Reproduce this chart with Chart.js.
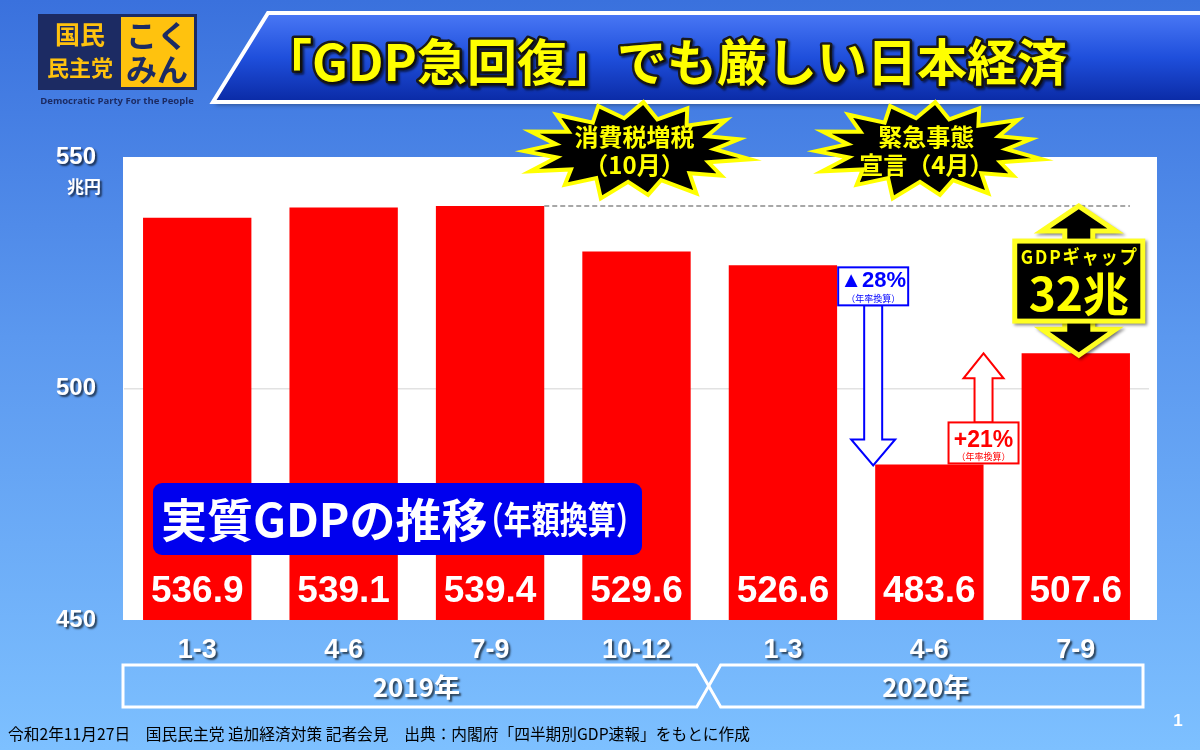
<!DOCTYPE html>
<html><head><meta charset="utf-8">
<script src="https://cdn.jsdelivr.net/npm/chart.js@4.4.1/dist/chart.umd.min.js"></script>
<style>
html,body{margin:0;padding:0;width:1200px;height:750px;overflow:hidden;}
body{background:linear-gradient(180deg,#3a71dd 0%,#5b98ef 45%,#7dc0ff 100%);}
#wrap{position:absolute;left:0;top:0;width:1200px;height:750px;}
</style></head>
<body><div id="wrap"><canvas id="c" width="1200" height="750"></canvas></div>
<script>
const categories = ['1-3','4-6','7-9','10-12','1-3','4-6','7-9'];
const gdp = [536.9, 539.1, 539.4, 529.6, 526.6, 483.6, 507.6];
const yTicks = [450, 500, 550];
const years = ['2019年', '2020年'];
const titleText = '「GDP急回復」でも厳しい日本経済';
const footerText = '令和2年11月27日　国民民主党 追加経済対策 記者会見　出典：内閣府「四半期別GDP速報」をもとに作成';

const JP = '"Noto Sans CJK JP","Noto Sans",sans-serif';
const NUM = '"Liberation Sans","Arial",sans-serif';

function poly(ctx, pts){ ctx.beginPath(); ctx.moveTo(pts[0][0],pts[0][1]); for(let i=1;i<pts.length;i++) ctx.lineTo(pts[i][0],pts[i][1]); ctx.closePath(); }

function starburst(ctx, cx, cy, rx, ry, irx, iry, n){
  const pts=[];
  for(let i=0;i<n*2;i++){
    const a = -Math.PI/2 + i*Math.PI/n + 0.08;
    const o = i%2===0;
    const jitter = o ? (1 + 0.06*Math.sin(i*1.7)) : 1;
    pts.push([cx + Math.cos(a)*(o?rx:irx)*jitter, cy + Math.sin(a)*(o?ry:iry)*jitter]);
  }
  ctx.save();
  poly(ctx, pts);
  ctx.fillStyle='#000'; ctx.fill();
  ctx.lineWidth=4; ctx.strokeStyle='#ffff00'; ctx.lineJoin='miter'; ctx.stroke();
  ctx.restore();
}

function vArrow(cx, baseY, headBaseY, tipY, sh, hh){
  return [[cx-sh,baseY],[cx+sh,baseY],[cx+sh,headBaseY],[cx+hh,headBaseY],[cx,tipY],[cx-hh,headBaseY],[cx-sh,headBaseY]];
}

function outlinedText(ctx, txt, x, y, fill, stroke, lw){
  ctx.lineWidth=lw; ctx.strokeStyle=stroke; ctx.lineJoin='round';
  ctx.strokeText(txt,x,y); ctx.fillStyle=fill; ctx.fillText(txt,x,y);
}

const deco = {
  id:'deco',
  beforeDraw(chart){
    const ctx=chart.ctx, a=chart.chartArea;
    Object.values(chart.scales).forEach(s=>{
      if(!s._shadowPatched){
        const orig=s.drawLabels;
        s.drawLabels=function(area){
          const c=this.ctx; c.save();
          c.shadowColor='rgba(0,0,0,0.65)'; c.shadowOffsetX=2; c.shadowOffsetY=2; c.shadowBlur=2;
          orig.call(this,area); c.restore();
        };
        s._shadowPatched=true;
      }
    });
    ctx.save();
    ctx.fillStyle='#ffffff';
    ctx.fillRect(a.left-1, a.top, a.right-a.left+9, a.bottom-a.top);
    ctx.restore();
  },
  afterDatasetsDraw(chart){
    const ctx=chart.ctx, a=chart.chartArea;
    const xs=chart.scales.x, ys=chart.scales.y;
    const meta=chart.getDatasetMeta(0);
    const X=i=>xs.getPixelForValue(i), Y=v=>ys.getPixelForValue(v);
    const bw=meta.data[0].width;

    ctx.save();
    ctx.setLineDash([5,3]); ctx.strokeStyle='#8a8a8a'; ctx.lineWidth=1.5;
    ctx.beginPath(); ctx.moveTo(X(2)+bw/2, Y(gdp[2])); ctx.lineTo(X(6)+bw/2, Y(gdp[2])); ctx.stroke();
    ctx.restore();

    ctx.save();
    ctx.font='bold 37px '+NUM; ctx.fillStyle='#fff'; ctx.textAlign='center'; ctx.textBaseline='middle';
    meta.data.forEach((b,i)=>{ ctx.fillText(gdp[i].toFixed(1), b.x, a.bottom-28); });
    ctx.restore();

    ctx.save();
    const lx=a.left+29, ly=a.bottom-137, lw=489, lh=72;
    ctx.beginPath(); ctx.roundRect(lx,ly,lw,lh,9); ctx.fillStyle='#0000ee'; ctx.fill();
    ctx.fillStyle='#fff'; ctx.textBaseline='middle'; ctx.textAlign='left';
    ctx.font='bold 46px '+JP;
    ctx.fillText('実質GDPの推移', lx+8, ly+lh/2+1);
    const w1=ctx.measureText('実質GDPの推移').width;
    ctx.font='bold 37px '+JP;
    ctx.fillText('（年額換算）', lx+w1-4, ly+lh/2+1, lw-w1+6);
    ctx.restore();

    ctx.save();
    const bcx = X(5)-bw/2-2;
    const btop = Y(gdp[4])+2, bboxB = btop+38;
    poly(ctx, vArrow(bcx, bboxB, Y(gdp[5])-25, Y(gdp[5])+1, 9, 22));
    ctx.fillStyle='#fff'; ctx.fill(); ctx.strokeStyle='#0000ff'; ctx.lineWidth=2; ctx.stroke();
    ctx.fillRect(bcx-35, btop, 70, 38); ctx.strokeRect(bcx-35, btop, 70, 38);
    ctx.fillStyle='#0000ff'; ctx.textAlign='center'; ctx.textBaseline='middle';
    ctx.font='bold 22px '+NUM; ctx.fillText('▲28%', bcx, btop+14);
    ctx.font='9px '+JP; ctx.fillText('（年率換算）', bcx, btop+31);
    ctx.restore();

    ctx.save();
    const rcx = X(5)+bw/2;
    const rbot = Y(gdp[5])-1, rtop = rbot-41;
    poly(ctx, vArrow(rcx, rtop, Y(gdp[6])+25, Y(gdp[6]), 9, 20));
    ctx.fillStyle='#fff'; ctx.fill(); ctx.strokeStyle='#ff0000'; ctx.lineWidth=2; ctx.stroke();
    ctx.fillRect(rcx-35, rtop, 70, 41); ctx.strokeRect(rcx-35, rtop, 70, 41);
    ctx.fillStyle='#ff0000'; ctx.textAlign='center'; ctx.textBaseline='middle';
    ctx.font='bold 23px '+NUM; ctx.fillText('+21%', rcx, rtop+18);
    ctx.font='9px '+JP; ctx.fillStyle='#ff0000'; ctx.fillText('（年率換算）', rcx, rtop+34);
    ctx.restore();

    ctx.save();
    const gcx = X(6)+3, gt=Y(gdp[2]), gb=Y(gdp[6])+2;
    const pts=[[gcx,gt],[gcx+37,gt+25],[gcx+14,gt+25],[gcx+14,gb-26],[gcx+37,gb-26],[gcx,gb],[gcx-37,gb-26],[gcx-14,gb-26],[gcx-14,gt+25],[gcx-37,gt+25]];
    ctx.shadowColor='rgba(0,0,0,0.4)'; ctx.shadowOffsetX=2; ctx.shadowOffsetY=2; ctx.shadowBlur=3;
    poly(ctx,pts); ctx.fillStyle='#000'; ctx.fill();
    ctx.lineWidth=5; ctx.strokeStyle='#ffff22'; ctx.lineJoin='miter'; ctx.stroke();
    ctx.fillRect(gcx-64, gt+35, 128, 80); ctx.strokeRect(gcx-64, gt+35, 128, 80);
    ctx.shadowColor='transparent';
    ctx.fillStyle='#000'; ctx.fillRect(gcx-61, gt+38, 122, 74);
    ctx.fillStyle='#ffff00'; ctx.textAlign='center'; ctx.textBaseline='middle';
    ctx.font='bold 19px '+JP; ctx.letterSpacing='2px'; ctx.fillText('GDPギャップ', gcx+1, gt+51, 118);
    ctx.letterSpacing='0px';
    ctx.font='bold 46px '+JP; ctx.fillText('32兆', gcx, gt+87);
    ctx.restore();
  },
  afterDraw(chart){
    const ctx=chart.ctx, a=chart.chartArea;
    const xs=chart.scales.x, X=i=>xs.getPixelForValue(i);

    ctx.save();
    ctx.shadowColor='rgba(0,0,0,0.65)'; ctx.shadowOffsetX=2; ctx.shadowOffsetY=2; ctx.shadowBlur=2;
    ctx.fillStyle='#fff'; ctx.font='bold 17px '+JP; ctx.textAlign='right'; ctx.textBaseline='middle';
    ctx.fillText('兆円', 101, a.top+30);
    ctx.restore();

    ctx.save();
    const t=a.bottom+45, b=a.bottom+87, m=(t+b)/2, mx=X(3)+(X(4)-X(3))/2-1;
    ctx.strokeStyle='#fff'; ctx.lineWidth=3; ctx.lineJoin='miter';
    poly(ctx, [[a.left-1,t],[mx-12,t],[mx,m],[mx-12,b],[a.left-1,b]]); ctx.stroke();
    poly(ctx, [[mx+12,t],[a.right-6,t],[a.right-6,b],[mx+12,b],[mx,m]]); ctx.stroke();
    ctx.shadowColor='rgba(0,0,0,0.65)'; ctx.shadowOffsetX=2; ctx.shadowOffsetY=2; ctx.shadowBlur=2;
    ctx.fillStyle='#fff'; ctx.font='bold 26px '+JP; ctx.textAlign='center'; ctx.textBaseline='middle';
    ctx.fillText(years[0], (a.left+mx)/2, m+1);
    ctx.fillText(years[1], (mx+a.right)/2 - 3, m+1);
    ctx.restore();

    ctx.save();
    ctx.fillStyle='#000'; ctx.font='15.8px '+JP; ctx.textAlign='left'; ctx.textBaseline='middle';
    ctx.fillText(footerText, 8, 734, 742);
    ctx.fillStyle='#fff'; ctx.font='bold 17px '+NUM; ctx.textAlign='center';
    ctx.fillText('1', 1178, 721);
    ctx.restore();

    ctx.save();
    const bp=[[268,13],[1204,13],[1204,102],[213,102]];
    ctx.shadowColor='rgba(0,0,0,0.35)'; ctx.shadowOffsetX=2; ctx.shadowOffsetY=3; ctx.shadowBlur=4;
    poly(ctx,bp);
    const g=ctx.createLinearGradient(0,13,0,102); g.addColorStop(0,'#4a78f5'); g.addColorStop(0.5,'#1f4fdc'); g.addColorStop(1,'#0a2aa5');
    ctx.fillStyle=g; ctx.fill();
    ctx.shadowColor='transparent';
    ctx.lineWidth=4; ctx.strokeStyle='#fff'; ctx.stroke();
    ctx.font='bold 50px '+JP; ctx.textAlign='left'; ctx.textBaseline='middle';
    ctx.shadowColor='rgba(0,0,0,0.5)'; ctx.shadowOffsetX=2; ctx.shadowOffsetY=2; ctx.shadowBlur=2;
    outlinedText(ctx, titleText, 262, 62, '#ffff00', '#1a1a1a', 5);
    ctx.restore();

    ctx.save();
    ctx.fillStyle='#1c2b63'; ctx.fillRect(38,14,159,76);
    ctx.fillStyle='#ffc20e'; ctx.fillRect(121,17,73,70);
    ctx.textAlign='center'; ctx.textBaseline='middle';
    ctx.fillStyle='#ffc20e'; ctx.font='bold 25px '+JP; ctx.fillText('国民', 80, 34);
    ctx.font='bold 22px '+JP; ctx.fillText('民主党', 80, 68, 76);
    ctx.fillStyle='#1c2b63'; ctx.font='bold 31px '+JP; ctx.fillText('こく', 157, 35); ctx.fillText('みん', 157, 69);
    ctx.fillStyle='#1c2b63'; ctx.font='bold 9.5px "Open Sans",'+NUM; ctx.fillText('Democratic Party For the People', 117, 101, 160);
    ctx.restore();

    const sy = a.top-7;
    [[X(3)-2,'消費税増税','（10月）'],[X(5)-3,'緊急事態','宣言（4月）']].forEach(([cx,l1,l2])=>{
      starburst(ctx, cx, sy, 112, 48, 80, 32, 15);
      ctx.save();
      ctx.fillStyle='#ffff00'; ctx.font='bold 24px '+JP; ctx.textAlign='center'; ctx.textBaseline='middle';
      ctx.fillText(l1, cx, sy-13);
      ctx.fillText(l2, cx, sy+15);
      ctx.restore();
    });
  }
};

new Chart(document.getElementById('c'), {
  type:'bar',
  data:{ labels:categories, datasets:[{ data:gdp, backgroundColor:'#ff0000', borderWidth:0, barPercentage:0.74, categoryPercentage:1 }] },
  options:{
    responsive:false, animation:false, devicePixelRatio:1,
    layout:{ padding:{ top:157, right:51, left:0, bottom:0 } },
    plugins:{ legend:{display:false}, tooltip:{enabled:false} },
    scales:{
      x:{
        grid:{display:false, drawTicks:false}, border:{display:false},
        ticks:{ color:'#fff', font:{family:NUM, size:27, weight:'bold'}, padding:14 },
        afterFit(s){ s.height=130; }
      },
      y:{
        min:450, max:550,
        afterBuildTicks(s){ s.ticks = yTicks.map(v=>({value:v})); },
        grid:{ drawTicks:false, color:(c)=> c.tick && c.tick.value===500 ? '#e2e2e2' : 'rgba(0,0,0,0)', lineWidth:1.5 },
        border:{display:false},
        ticks:{ color:'#fff', font:{family:NUM, size:24, weight:'bold'}, padding:28 },
        afterFit(s){ s.width=124; }
      }
    }
  },
  plugins:[deco]
});
</script></body></html>
